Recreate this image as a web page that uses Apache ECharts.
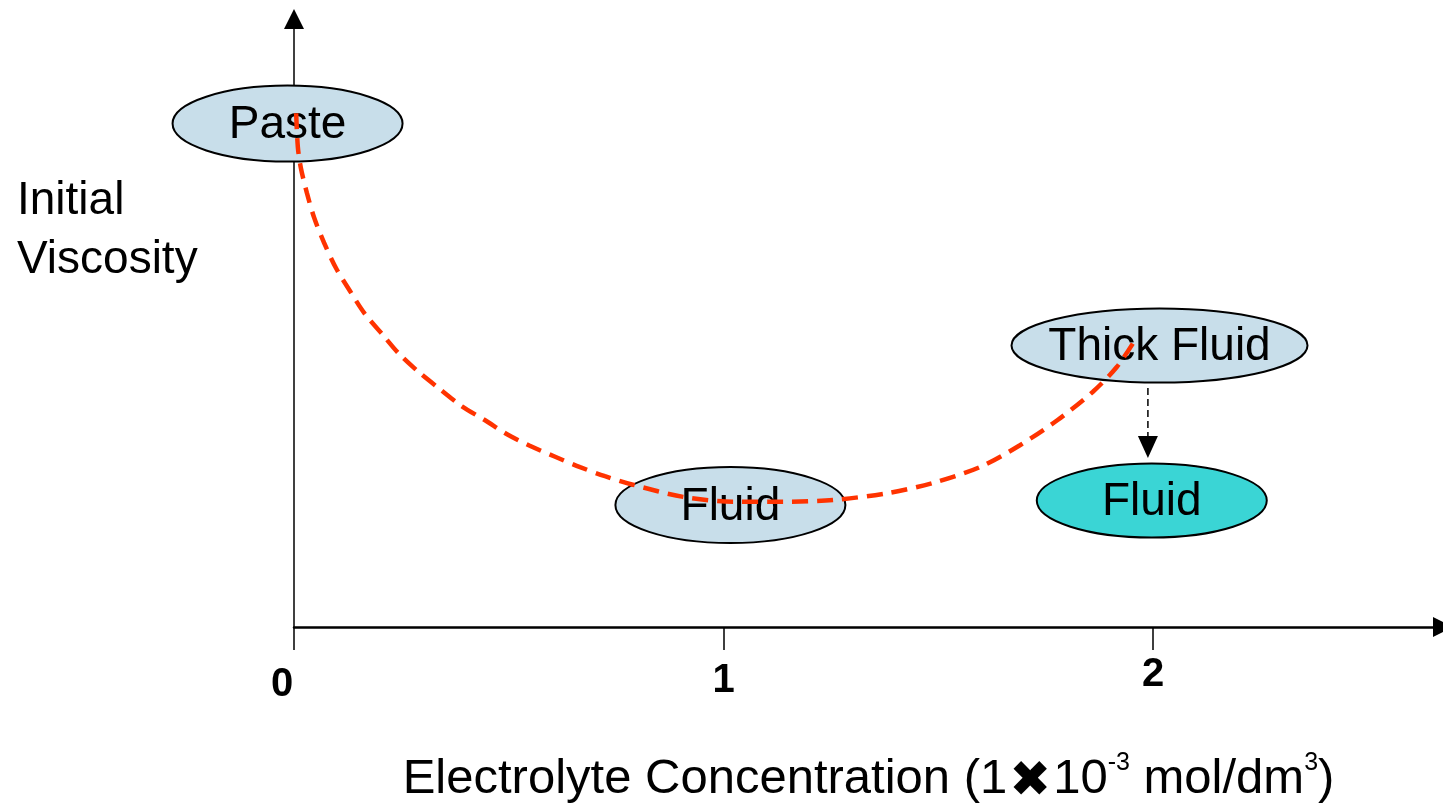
<!DOCTYPE html>
<html>
<head>
<meta charset="utf-8">
<script src="https://cdn.jsdelivr.net/npm/echarts@6/dist/echarts.min.js"></script>
<style>
html,body{margin:0;padding:0;background:#fff;}
#chart{width:1443px;height:811px;}
</style>
</head>
<body>
<div id="chart"></div>
<script>
// ---- data ----
const xTicks = [0, 1, 2];
const stateNames = ['Paste', 'Fluid', 'Thick Fluid', 'Fluid'];
const stateX = [-0.015, 1.016, 2.015, 1.997];
const stateY = [8.28, 2.007, 4.63, 2.08];
const curveX = [0.005, 0.009, 0.016, 0.030, 0.047, 0.070, 0.098, 0.130, 0.165, 0.205, 0.245, 0.291, 0.342, 0.391, 0.445, 0.496, 0.549, 0.608, 0.666, 0.724, 0.789, 0.906, 1.022, 1.139, 1.255, 1.381, 1.488, 1.597, 1.690, 1.777, 1.860, 1.916, 1.958];
const curveY = [8.45, 7.89, 7.55, 7.14, 6.73, 6.32, 5.90, 5.53, 5.15, 4.82, 4.49, 4.19, 3.90, 3.63, 3.40, 3.17, 2.98, 2.80, 2.63, 2.48, 2.34, 2.14, 2.06, 2.06, 2.09, 2.20, 2.37, 2.63, 2.99, 3.40, 3.87, 4.28, 4.72];
const arrowX = [1.988, 1.988];
const arrowY = [3.93, 2.96];

// ---- styles ----
const FONT = 'Liberation Sans, Arial, sans-serif';
const ellipseStyles = [
  {rx: 115, ry: 38, fill: '#C8DEEA'},
  {rx: 115, ry: 38, fill: '#C8DEEA'},
  {rx: 148, ry: 37, fill: '#C8DEEA'},
  {rx: 115, ry: 37, fill: '#3AD5D5'}
];

const chart = echarts.init(document.getElementById('chart'));
const option = {
  backgroundColor: '#fff',
  animation: false,
  grid: {left: 294, right: 0, top: 19, bottom: 184, containLabel: false, outerBoundsMode: 'none'},
  xAxis: {
    type: 'value', min: 0, max: 2.675, interval: 1,
    splitLine: {show: false},
    axisLine: {show: true, lineStyle: {color: '#000', width: 2.5}, symbol: ['none', 'triangle'], symbolSize: [20, 20]},
    axisTick: {show: true, length: 23, lineStyle: {color: '#000', width: 1.5}, customValues: xTicks},
    axisLabel: {
      show: true, customValues: xTicks, margin: 28,
      formatter: v => '{v' + v + '|' + v + '}',
      rich: {
        v0: {fontSize: 40, fontWeight: 'bold', fontFamily: FONT, color: '#000', padding: [10, 24, 0, 0]},
        v1: {fontSize: 40, fontWeight: 'bold', fontFamily: FONT, color: '#000', padding: [6, 0, 0, 0]},
        v2: {fontSize: 40, fontWeight: 'bold', fontFamily: FONT, color: '#000', padding: [0, 0, 0, 0]}
      }
    },
    name: '{n|Electrolyte Concentration (1}{x|✖}{n|10}{s|-3}{n| mol/dm}{s|3}{n|)}',
    nameLocation: 'middle', nameGap: 124,
    nameTextStyle: {
      rich: {
        n: {fontSize: 49, fontFamily: FONT, color: '#000', lineHeight: 56},
        x: {fontSize: 50, fontFamily: 'DejaVu Sans', color: '#000', lineHeight: 56, padding: [8, 2, 0, 2]},
        s: {fontSize: 25, fontFamily: FONT, color: '#000', lineHeight: 24, verticalAlign: 'top'}
      }
    }
  },
  yAxis: {
    type: 'value', min: 0, max: 10, interval: 1,
    splitLine: {show: false},
    axisLine: {show: true, lineStyle: {color: '#000', width: 1.5}, symbol: ['none', 'triangle'], symbolSize: [20, 20]},
    axisTick: {show: false},
    axisLabel: {show: false}
  },
  graphic: [{
    type: 'text', left: 17, top: 172,
    style: {text: 'Initial\nViscosity', font: '46px ' + FONT, fill: '#000', lineHeight: 59}
  }],
  series: [
    {
      type: 'custom', z: 2,
      data: stateX.map((x, i) => [x, stateY[i]]),
      renderItem: (params, api) => {
        const c = api.coord([api.value(0), api.value(1)]);
        const s = ellipseStyles[params.dataIndex];
        return {
          type: 'group',
          children: [
            {type: 'ellipse', shape: {cx: c[0], cy: c[1], rx: s.rx, ry: s.ry},
             style: {fill: s.fill, stroke: '#000', lineWidth: 2}},
            {type: 'text', style: {text: stateNames[params.dataIndex], x: c[0], y: c[1] + 2,
             align: 'center', verticalAlign: 'middle', font: '46px ' + FONT, fill: '#000'}}
          ]
        };
      }
    },
    {
      type: 'line', z: 5, smooth: 0.3, symbol: 'none', clip: false,
      data: curveX.map((x, i) => [x, curveY[i]]),
      lineStyle: {color: '#FF3300', width: 4.5, type: [16, 9]}
    },
    {
      type: 'line', z: 5, clip: false,
      data: arrowX.map((x, i) => [x, arrowY[i]]),
      symbol: (v, p) => p.dataIndex === 1 ? 'triangle' : 'none',
      symbolSize: [20, 22], symbolRotate: 180,
      itemStyle: {color: '#000'},
      lineStyle: {color: '#000', width: 1.5, type: [7, 4]}
    }
  ]
};
chart.setOption(option);
</script>
</body>
</html>
